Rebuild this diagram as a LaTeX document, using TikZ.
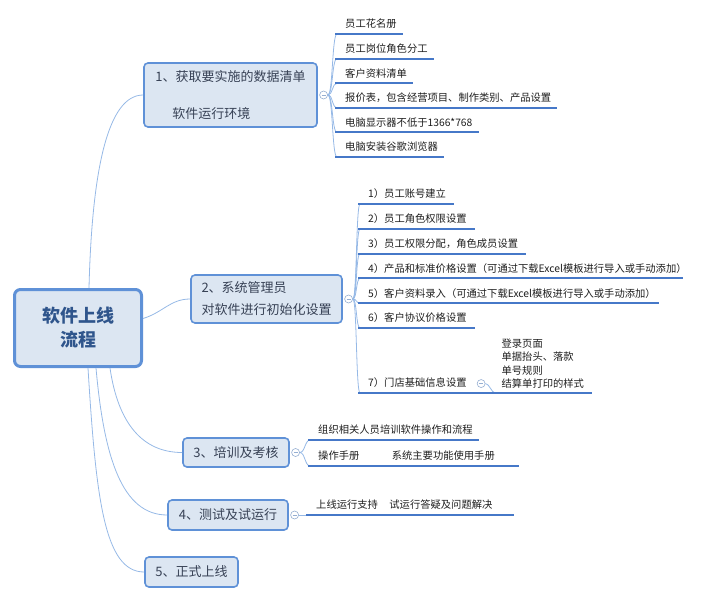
\documentclass[tikz,border=0pt]{standalone}
\usepackage{fontspec}
\newfontfamily\cjk{Noto Sans CJK SC}
\usetikzlibrary{positioning}

\definecolor{nodefill}{RGB}{220,230,242}
\definecolor{nodeline}{RGB}{95,145,215}
\definecolor{ulinecol}{RGB}{70,120,200}
\definecolor{linkcol}{RGB}{150,185,230}
\definecolor{foldcol}{RGB}{150,175,210}
\definecolor{nodetext}{RGB}{55,65,85}
\definecolor{roottext}{RGB}{47,85,140}
\definecolor{itemtext}{RGB}{30,30,30}

\begin{document}
\begin{tikzpicture}[
        x=1pt, y=-1pt,
        rootbox/.style={
            draw=nodeline,
            fill=nodefill,
            line width=3pt,
            rounded corners=6pt,
            align=center,
            text=roottext,
            font=\cjk\bfseries\fontsize{18}{24}\selectfont,
            minimum width=127pt,
            minimum height=77pt
        },
        topic/.style={
            draw=nodeline,
            fill=nodefill,
            line width=1.6pt,
            rounded corners=4pt,
            text=nodetext,
            font=\cjk\fontsize{13}{22}\selectfont
        },
        fold/.style={
            circle,
            draw=foldcol,
            fill=white,
            line width=0.6pt,
            minimum size=8pt,
            inner sep=0pt,
            path picture={\draw[foldcol, line width=0.6pt]
                ([xshift=-2pt]path picture bounding box.center) --
                ([xshift=2pt]path picture bounding box.center);}
        },
        itembase/.style={
            text=itemtext,
            font=\cjk\fontsize{10.3}{13.5}\selectfont,
            inner xsep=0pt,
            inner ysep=4pt,
            anchor=south west
        },
        item/.style={itembase, text height=8.5pt, text depth=2pt},
        uline/.style={draw=ulinecol, line width=2pt},
        link/.style={draw=linkcol, line width=0.8pt}
    ]
    \useasboundingbox (0,0) rectangle (703,602);

    % main topics
    \node[rootbox] (root) at (78,328) {软件上线\\流程};
    \node[topic, minimum width=173pt, minimum height=64pt, align=left] (n1) at (230.5,95)
        {1、获取要实施的数据清单\\[15pt]\hspace*{17pt}软件运行环境};
    \node[topic, minimum width=151pt, minimum height=48pt, align=left] (n2) at (266.5,299)
        {2、系统管理员\\对软件进行初始化设置};
    \node[topic, minimum width=106pt, minimum height=29pt] (n3) at (236,452.5) {3、培训及考核};
    \node[topic, minimum width=120pt, minimum height=30pt] (n4) at (228,515) {4、测试及试运行};
    \node[topic, minimum width=93pt, minimum height=30pt] (n5) at (191.5,572) {5、正式上线};

    \node[fold, right=1.5pt of n1] (c1) {};
    \node[fold, right=1.5pt of n2] (c2) {};
    \node[fold, right=1.5pt of n3] (c3) {};
    \node[fold, right=1.5pt of n4] (c4) {};

    % topic 1
    \node[item] (a1) at (345,34) {员工花名册};
    \node[item, below=5.7pt of a1.south west, anchor=north west] (a2) {员工岗位角色分工};
    \node[item, below=5.7pt of a2.south west, anchor=north west] (a3) {客户资料清单};
    \node[item, below=5.7pt of a3.south west, anchor=north west] (a4) {报价表，包含经营项目、制作类别、产品设置};
    \node[item, below=5.7pt of a4.south west, anchor=north west] (a5) {电脑显示器不低于1366*768};
    \node[item, below=5.7pt of a5.south west, anchor=north west] (a6) {电脑安装谷歌浏览器};

    % topic 2
    \node[item] (b1) at (368,204) {1）员工账号建立};
    \node[item, below=5.9pt of b1.south west, anchor=north west] (b2) {2）员工角色权限设置};
    \node[item, below=5.9pt of b2.south west, anchor=north west] (b3) {3）员工权限分配，角色成员设置};
    \node[item, below=5.9pt of b3.south west, anchor=north west] (b4) {4）产品和标准价格设置（可通过下载Excel模板进行导入或手动添加）};
    \node[item, below=5.9pt of b4.south west, anchor=north west] (b5) {5）客户资料录入（可通过下载Excel模板进行导入或手动添加）};
    \node[item, below=5.9pt of b5.south west, anchor=north west] (b6) {6）客户协议价格设置};
    \node[item, below=46.1pt of b6.south west, anchor=north west] (b7) {7）门店基础信息设置};
    \node[fold, right=10pt of b7] (c7) {};
    \node[itembase, align=left] (e1) at ([xshift=16pt]c7.east |- b7.south)
        {登录页面\\单据抬头、落款\\单号规则\\结算单打印的样式};

    % topic 3
    \node[item] (d1) at (318,440) {组织相关人员培训软件操作和流程};
    \node[item, below=7.1pt of d1.south west, anchor=north west] (d2) {操作手册};
    \node[item, right=32pt of d2] (d2a) {系统主要功能使用手册};

    % topic 4
    \node[item] (f1) at (316,515) {上线运行支持};
    \node[item, right=11pt of f1] (f1a) {试运行答疑及问题解决};

    % root links
    \draw[link] ([xshift=11pt]root.north) .. controls +(3,-120) and +(-35,0) .. (n1.west);
    \draw[link] ([yshift=9.5pt]root.east) .. controls +(20,-6) and +(-20,0) .. (n2.west);
    \draw[link] ([xshift=32pt]root.south) .. controls +(8,55) and +(-40,0) .. (n3.west);
    \draw[link] ([xshift=18pt]root.south) .. controls +(8,90) and +(-45,0) .. (n4.west);
    \draw[link] ([xshift=10pt]root.south) .. controls +(8,130) and +(-40,0) .. (n5.west);

    % branch links
    \draw[link] (c1.east) .. controls +(5,0) and +(-5,0) .. ([xshift=-8pt]a1.south west);
    \draw[link] (c1.east) .. controls +(5,0) and +(-5,0) .. ([xshift=-8pt]a2.south west);
    \draw[link] (c1.east) .. controls +(5,0) and +(-5,0) .. ([xshift=-8pt]a3.south west);
    \draw[link] (c1.east) .. controls +(5,0) and +(-5,0) .. ([xshift=-8pt]a4.south west);
    \draw[link] (c1.east) .. controls +(5,0) and +(-5,0) .. ([xshift=-8pt]a5.south west);
    \draw[link] (c1.east) .. controls +(5,0) and +(-5,0) .. ([xshift=-8pt]a6.south west);
    \draw[link] (c2.east) .. controls +(4,0) and +(-4,0) .. ([xshift=-8pt]b1.south west);
    \draw[link] (c2.east) .. controls +(4,0) and +(-4,0) .. ([xshift=-8pt]b2.south west);
    \draw[link] (c2.east) .. controls +(4,0) and +(-4,0) .. ([xshift=-8pt]b3.south west);
    \draw[link] (c2.east) .. controls +(4,0) and +(-4,0) .. ([xshift=-8pt]b4.south west);
    \draw[link] (c2.east) .. controls +(4,0) and +(-4,0) .. ([xshift=-8pt]b5.south west);
    \draw[link] (c2.east) .. controls +(4,0) and +(-4,0) .. ([xshift=-8pt]b6.south west);
    \draw[link] (c2.east) .. controls +(4,0) and +(-4,0) .. ([xshift=-8pt]b7.south west);
    \draw[link] (c7.east) .. controls +(4,0) and +(-4,0) .. ([xshift=-6pt]e1.south west);
    \draw[link] (c3.east) .. controls +(5,0) and +(-5,0) .. ([xshift=-8pt]d1.south west);
    \draw[link] (c3.east) .. controls +(5,0) and +(-5,0) .. ([xshift=-8pt]d2.south west);
    \draw[link] (c4.east) -- ([xshift=-6pt]f1.south west);

    % underlines
    \draw[uline] ([xshift=-10pt]a1.south west) -- ([xshift=6pt]a1.south east);
    \draw[uline] ([xshift=-10pt]a2.south west) -- ([xshift=6pt]a2.south east);
    \draw[uline] ([xshift=-10pt]a3.south west) -- ([xshift=6pt]a3.south east);
    \draw[uline] ([xshift=-10pt]a4.south west) -- ([xshift=6pt]a4.south east);
    \draw[uline] ([xshift=-10pt]a5.south west) -- ([xshift=6pt]a5.south east);
    \draw[uline] ([xshift=-10pt]a6.south west) -- ([xshift=6pt]a6.south east);
    \draw[uline] ([xshift=-10pt]b1.south west) -- ([xshift=8pt]b1.south east);
    \draw[uline] ([xshift=-10pt]b2.south west) -- ([xshift=8pt]b2.south east);
    \draw[uline] ([xshift=-10pt]b3.south west) -- ([xshift=8pt]b3.south east);
    \draw[uline] ([xshift=-10pt]b4.south west) -- ([xshift=-4pt]b4.south east);
    \draw[uline] ([xshift=-10pt]b5.south west) -- ([xshift=3pt]b5.south east);
    \draw[uline] ([xshift=-10pt]b6.south west) -- ([xshift=8pt]b6.south east);
    \draw[uline] ([xshift=-10pt]b7.south west) -- (c7.center |- b7.south);
    \draw[uline] (c7.center |- e1.south) -- ([xshift=8pt]e1.south east);
    \draw[uline] ([xshift=-10pt]d1.south west) -- ([xshift=6pt]d1.south east);
    \draw[uline] ([xshift=-10pt]d2.south west) -- ([xshift=24pt]d2a.south east);
    \draw[uline] ([xshift=-10pt]f1.south west) -- ([xshift=21pt]f1a.south east);
\end{tikzpicture}
\end{document}
